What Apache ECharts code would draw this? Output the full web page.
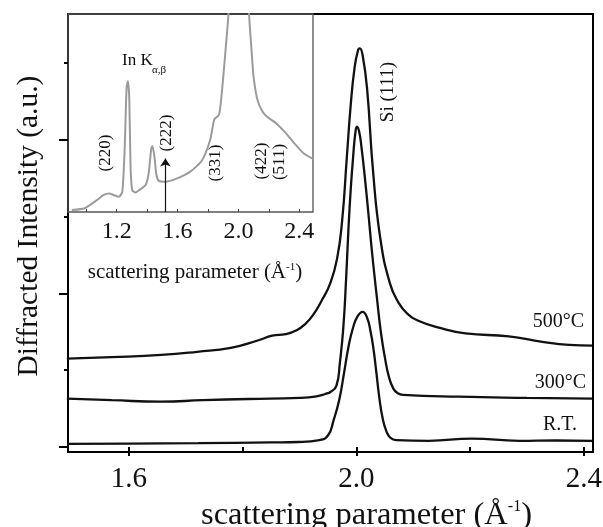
<!DOCTYPE html>
<html>
<head>
<meta charset="utf-8">
<script src="https://cdn.jsdelivr.net/npm/echarts@6/dist/echarts.min.js"></script>
<style>
html, body { margin: 0; padding: 0; background: #fff; }
#chart { width: 603px; height: 527px; }
</style>
</head>
<body>
<div id="chart"></div>
<script>
// main panel: Si(111) peak, curves offset vertically (arbitrary units)
const rtCurve = [
  [1.492, 0.04], [1.60, 0.045], [1.722, 0.05], [1.85, 0.06], [1.898, 0.065], [1.935, 0.09],
  [1.950, 0.15], [1.960, 0.35], [1.970, 0.62], [1.978, 0.95], [1.986, 1.30], [1.994, 1.55],
  [2.002, 1.70], [2.011, 1.76], [2.019, 1.68], [2.025, 1.50], [2.030, 1.28], [2.035, 0.98],
  [2.040, 0.66], [2.046, 0.38], [2.053, 0.20], [2.060, 0.12], [2.070, 0.09], [2.127, 0.08],
  [2.203, 0.11], [2.286, 0.08], [2.35, 0.085], [2.415, 0.08]
];
const t300Curve = [
  [1.491, 0.63], [1.57, 0.61], [1.657, 0.59], [1.73, 0.61], [1.81, 0.625], [1.90, 0.64],
  [1.93, 0.66], [1.945, 0.69], [1.955, 0.72], [1.965, 0.80], [1.971, 1.10], [1.977, 1.55],
  [1.982, 2.20], [1.986, 2.83], [1.990, 3.35], [1.994, 3.75], [1.998, 4.08], [2.001, 4.17],
  [2.005, 4.10], [2.009, 3.90], [2.015, 3.50], [2.021, 3.05], [2.028, 2.50], [2.036, 1.95],
  [2.043, 1.50], [2.050, 1.17], [2.057, 0.92], [2.065, 0.76], [2.073, 0.70], [2.082, 0.68],
  [2.18, 0.655], [2.30, 0.64], [2.415, 0.63]
];
const t500Curve = [
  [1.491, 1.15], [1.57, 1.17], [1.657, 1.20], [1.72, 1.24], [1.779, 1.29], [1.828, 1.39],
  [1.852, 1.45], [1.876, 1.47], [1.895, 1.52], [1.910, 1.60], [1.924, 1.72], [1.940, 1.92],
  [1.954, 2.13], [1.966, 2.45], [1.975, 2.95], [1.983, 3.75], [1.990, 4.45], [1.997, 4.95],
  [2.003, 5.17], [2.006, 5.19], [2.011, 5.10], [2.019, 4.65], [2.029, 3.62], [2.042, 2.72],
  [2.059, 2.13], [2.074, 1.88], [2.089, 1.74], [2.110, 1.64], [2.147, 1.55], [2.192, 1.48],
  [2.268, 1.44], [2.327, 1.37], [2.374, 1.33], [2.415, 1.32]
];
// inset: wide scan (grey)
const insetCurve = [
  [0.905, 1.0], [0.99, 1.9], [1.07, 6.0], [1.115, 8.6], [1.15, 9.4], [1.18, 8.6], [1.215, 7.7],
  [1.237, 10.3], [1.252, 31], [1.265, 63], [1.274, 66], [1.283, 56.6], [1.291, 23], [1.302, 11],
  [1.324, 9.8], [1.346, 11], [1.39, 13.6], [1.41, 19.5], [1.427, 32], [1.435, 33.3], [1.448, 28],
  [1.461, 18.7], [1.477, 15.7], [1.52, 15.3], [1.597, 17], [1.684, 20.4], [1.76, 26], [1.814, 36.4],
  [1.84, 46.5], [1.857, 48], [1.872, 49], [1.884, 55], [1.90, 68], [1.919, 85], [1.934, 99.5],
  [1.95, 140], [1.975, 260], [2.0, 340], [2.03, 260], [2.05, 150], [2.07, 100], [2.083, 85],
  [2.10, 68], [2.127, 56], [2.16, 50.5], [2.19, 48], [2.245, 45], [2.31, 40], [2.375, 34],
  [2.43, 29.5], [2.49, 26.8]
];
const mainXMajor = [1.6, 2.0, 2.4];
const mainXMinor = [1.8, 2.2];
const mainYMajor = [0, 2, 4];
const mainYMinor = [1, 3, 5];
const insetXTicks = [1.0, 1.2, 1.4, 1.6, 1.8, 2.0, 2.2, 2.4];
const insetXLabels = [1.2, 1.6, 2.0, 2.4];
const arrowX = 1.52;
const arrowTop = 27;

const FONT = "Liberation Serif";
const mainRange = { min: 1.493, max: 2.416 };
const mainYRange = { min: -0.065, max: 5.638 };
const mainBox = { left: 68, top: 14, width: 525, height: 438, outerBoundsMode: "none" };

const chart = echarts.init(document.getElementById("chart"));

function curve(data, xi, yi, color, width, smooth) {
  return {
    type: "line",
    xAxisIndex: xi,
    yAxisIndex: yi,
    data: data,
    showSymbol: false,
    smooth: smooth,
    lineStyle: { color: color, width: width },
    silent: true
  };
}

function rotText(txt, x, y, size) {
  return {
    type: "text", x: x, y: y, rotation: Math.PI / 2,
    style: { text: txt, fontFamily: FONT, fontSize: size, fill: "#111", align: "center", verticalAlign: "middle" }
  };
}

function sideText(txt, x, y, size) {
  return {
    type: "text", x: x, y: y,
    style: { text: txt, fontFamily: FONT, fontSize: size, fill: "#111", align: "right", verticalAlign: "middle" }
  };
}

const option = {
  animation: false,
  backgroundColor: "#fff",
  grid: [
    Object.assign({ show: true, borderColor: "#000", borderWidth: 2 }, mainBox),
    { left: 68, top: 14, width: 245, height: 198, show: true, borderColor: "#555", borderWidth: 1.3, outerBoundsMode: "none" },
    // overlay grid only for the short (minor) ticks of the main frame
    Object.assign({ show: false }, mainBox)
  ],
  xAxis: [
    {
      gridIndex: 0, type: "value", min: mainRange.min, max: mainRange.max,
      axisLine: { show: false },
      axisTick: { show: true, customValues: mainXMajor, length: 9, lineStyle: { color: "#000", width: 2 } },
      axisLabel: { customValues: mainXMajor, margin: 13, fontFamily: FONT, fontSize: 29, color: "#111",
        formatter: v => v.toFixed(1) },
      splitLine: { show: false },
      name: "{a|scattering parameter (Å}{b|-1}{a|)}",
      nameLocation: "middle", nameGap: 37,
      nameTextStyle: { padding: [0, 0, 0, 72], rich: {
        a: { fontFamily: FONT, fontSize: 32.5, color: "#111" },
        b: { fontFamily: FONT, fontSize: 16, color: "#111", verticalAlign: "top", padding: [0, 0, 14, 0] }
      } }
    },
    {
      gridIndex: 1, type: "value", min: 0.88, max: 2.49,
      axisLine: { show: false },
      axisTick: { show: true, inside: true, customValues: insetXTicks, length: 3, lineStyle: { color: "#444", width: 1 } },
      axisLabel: { customValues: insetXLabels, margin: 8, fontFamily: FONT, fontSize: 24, color: "#111",
        formatter: v => v.toFixed(1) },
      splitLine: { show: false }
    },
    {
      gridIndex: 2, type: "value", min: mainRange.min, max: mainRange.max,
      axisLine: { show: false },
      axisTick: { show: true, customValues: mainXMinor, length: 4, lineStyle: { color: "#000", width: 2 } },
      axisLabel: { show: false },
      splitLine: { show: false }
    }
  ],
  yAxis: [
    {
      gridIndex: 0, type: "value", min: mainYRange.min, max: mainYRange.max,
      axisLine: { show: false },
      axisTick: { show: true, customValues: mainYMajor, length: 9, lineStyle: { color: "#000", width: 2 } },
      axisLabel: { show: false },
      splitLine: { show: false },
      name: "Diffracted Intensity (a.u.)",
      nameLocation: "middle", nameGap: 24,
      nameTextStyle: { fontFamily: FONT, fontSize: 29.5, color: "#111", padding: [0, 0, 0, 14] }
    },
    {
      gridIndex: 1, type: "value", min: 0, max: 100,
      axisLine: { show: false }, axisTick: { show: false }, axisLabel: { show: false },
      splitLine: { show: false }
    },
    {
      gridIndex: 2, type: "value", min: mainYRange.min, max: mainYRange.max,
      axisLine: { show: false },
      axisTick: { show: true, customValues: mainYMinor, length: 4, lineStyle: { color: "#000", width: 2 } },
      axisLabel: { show: false },
      splitLine: { show: false }
    }
  ],
  series: [
    curve(rtCurve, 0, 0, "#111", 2.3, 0.5),
    curve(t300Curve, 0, 0, "#111", 2.3, 0.5),
    curve(t500Curve, 0, 0, "#111", 2.3, 0.5),
    Object.assign(curve(insetCurve, 1, 1, "#9b9b9b", 2, 0.2), {
      markLine: {
        silent: true, symbol: ["none", "arrow"], symbolSize: 8,
        label: { show: false },
        lineStyle: { color: "#111", width: 1.2, type: "solid" },
        data: [[{ coord: [arrowX, 0] }, { coord: [arrowX, arrowTop] }]]
      }
    })
  ],
  graphic: [
    rotText("Si (111)", 388, 92, 19),
    sideText("500°C", 584, 322, 20),
    sideText("300°C", 586, 383, 20),
    sideText("R.T.", 577, 425, 20),
    rotText("(220)", 106, 153, 17),
    rotText("(222)", 167, 133, 17),
    rotText("(331)", 216, 163, 17),
    rotText("(422)", 262, 161, 17),
    rotText("(511)", 280, 162, 17),
    {
      type: "text", x: 122, y: 61,
      style: { text: "In K", fontFamily: FONT, fontSize: 17, fill: "#111", align: "left", verticalAlign: "middle" }
    },
    {
      type: "text", x: 152, y: 70,
      style: { text: "α,β", fontFamily: FONT, fontSize: 11, fill: "#111", align: "left", verticalAlign: "middle" }
    },
    {
      type: "text", x: 195, y: 272,
      style: {
        text: "{a|scattering parameter (Å}{b|-1}{a|)}",
        align: "center", verticalAlign: "middle",
        rich: {
          a: { fontFamily: FONT, fontSize: 21, fill: "#111" },
          b: { fontFamily: FONT, fontSize: 11, fill: "#111", verticalAlign: "top", padding: [0, 0, 9, 0] }
        }
      }
    }
  ]
};

chart.setOption(option);
</script>
</body>
</html>
